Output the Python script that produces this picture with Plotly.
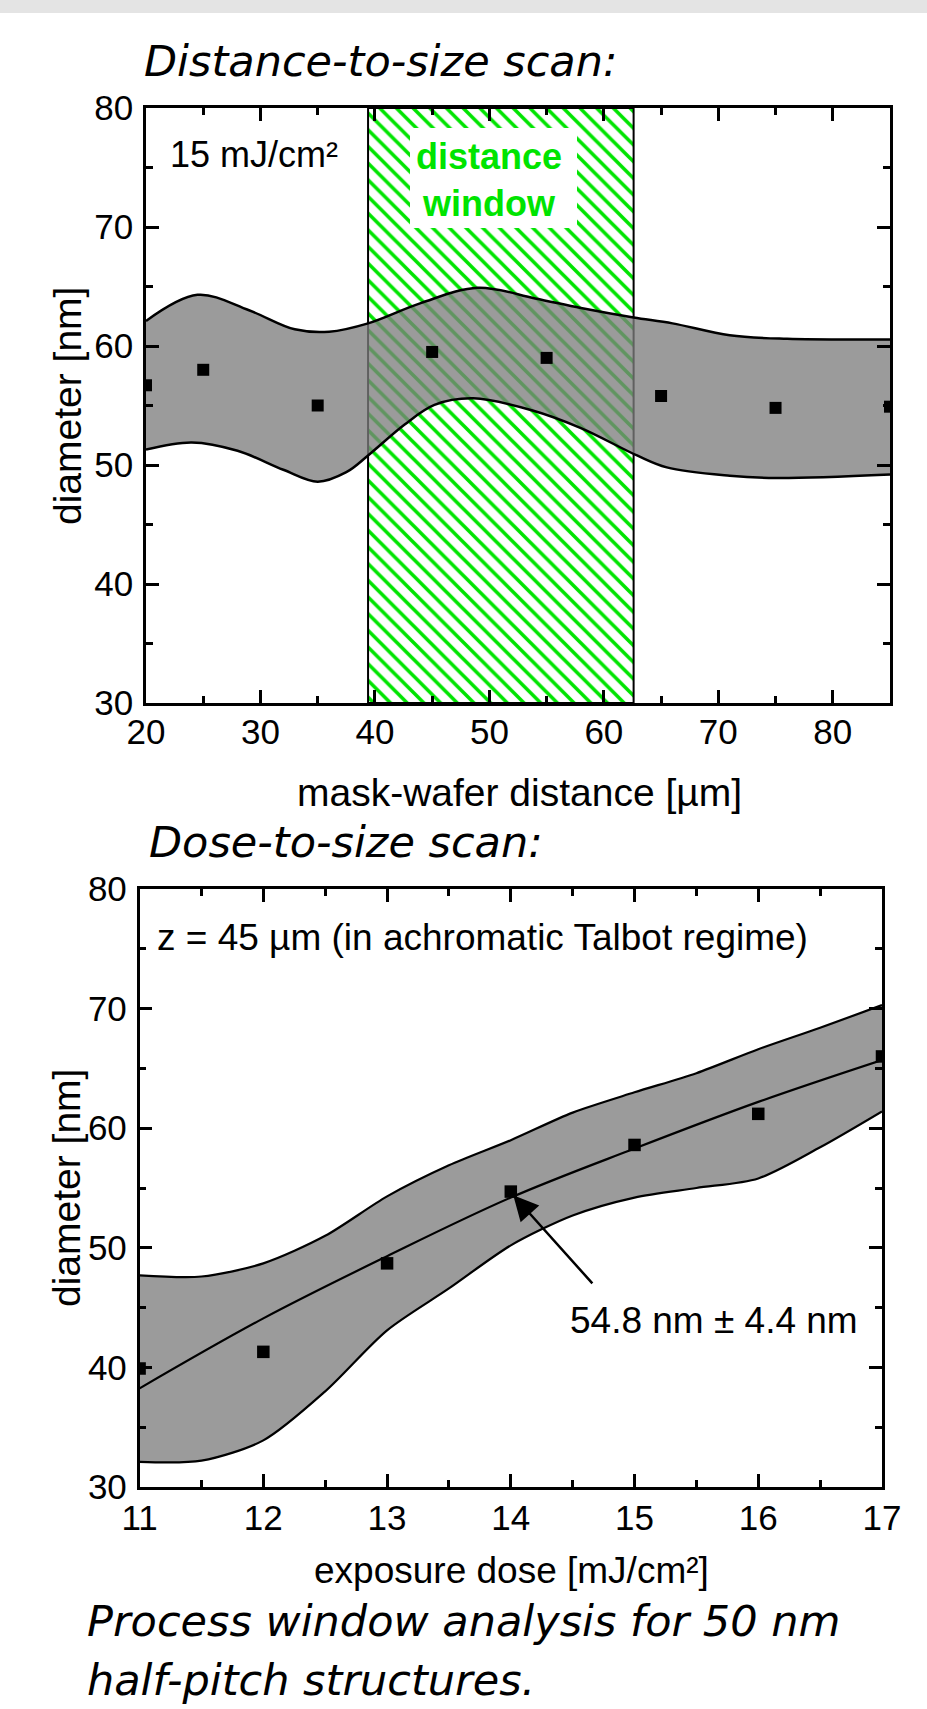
import plotly.graph_objects as go

W, H = 927, 1709

# ---------------- data: distance-to-size scan ----------------
dist_x = [20, 25, 35, 45, 55, 65, 75, 85]
dist_d = [56.7, 58.0, 55.0, 59.5, 59.0, 55.8, 54.8, 54.9]
dist_up_x = [20, 24.5, 29, 33, 36, 39.4, 44, 49, 54, 58, 62.6, 66, 71, 76, 85]
dist_up_y = [62.1, 64.3, 63.0, 61.4, 61.2, 61.9, 63.6, 64.9, 64.0, 63.2, 62.4, 61.9, 60.9, 60.6, 60.55]
dist_lo_x = [20, 24, 28, 32, 35, 37.5, 39.4, 42.6, 45.2, 48.6, 53.7, 58, 62.9, 65.5, 71, 75, 85]
dist_lo_y = [51.3, 51.9, 51.2, 49.6, 48.6, 49.4, 50.8, 53.4, 55.05, 55.6, 54.6, 53.1, 50.8, 49.8, 49.1, 48.9, 49.2]
window_x = [39.4, 62.6]

# ---------------- data: dose-to-size scan ----------------
dose_x = [11, 12, 13, 14, 15, 16, 17]
dose_d = [39.9, 41.3, 48.7, 54.7, 58.6, 61.2, 66.0]
dose_fit = [38.25, 44.1, 49.3, 54.2, 58.3, 62.2, 65.7]
dose_band_x = [11, 11.5, 12, 12.5, 13, 13.5, 14, 14.5, 15, 15.5, 16, 16.5, 17]
dose_up = [47.7, 47.6, 48.7, 51.0, 54.3, 56.9, 59.0, 61.3, 63.0, 64.6, 66.6, 68.4, 70.3]
dose_lo = [32.1, 32.2, 33.9, 38.0, 43.1, 46.6, 50.2, 52.7, 54.2, 55.0, 55.8, 58.4, 61.4]

x_ticks_top = [20, 30, 40, 50, 60, 70, 80]
x_ticks_bot = [11, 12, 13, 14, 15, 16, 17]
y_ticks = [30, 40, 50, 60, 70, 80]

ARIAL = "Liberation Sans, Arial, sans-serif"
CAP = "DejaVu Sans, sans-serif"
GREEN = "#00e400"
BAND = "rgba(125,125,125,0.77)"

def px(x):
    return x / W

def py(y):
    return 1 - y / H

fig = go.Figure()

# ---- top panel ----
fig.add_trace(go.Scatter(
    x=[window_x[0], window_x[1], window_x[1], window_x[0], window_x[0]],
    y=[30, 30, 80, 80, 30], mode="lines", fill="toself",
    line=dict(color="black", width=2),
    fillpattern=dict(shape="\\", fgcolor=GREEN, bgcolor="white", size=11.8, solidity=0.3),
    xaxis="x", yaxis="y", hoverinfo="skip", showlegend=False))
fig.add_trace(go.Scatter(
    x=dist_lo_x, y=dist_lo_y, mode="lines",
    line=dict(color="black", width=2.5, shape="spline", smoothing=1),
    xaxis="x", yaxis="y", showlegend=False))
fig.add_trace(go.Scatter(
    x=dist_up_x, y=dist_up_y, mode="lines", fill="tonexty",
    fillcolor=BAND,
    line=dict(color="black", width=2.5, shape="spline", smoothing=1),
    xaxis="x", yaxis="y", showlegend=False))
fig.add_trace(go.Scatter(
    x=dist_x, y=dist_d, mode="markers",
    marker=dict(symbol="square", size=12, color="black"),
    xaxis="x", yaxis="y", showlegend=False))

# ---- bottom panel ----
fig.add_trace(go.Scatter(
    x=dose_band_x, y=dose_lo, mode="lines",
    line=dict(color="black", width=2.2, shape="spline", smoothing=0.8),
    xaxis="x2", yaxis="y2", showlegend=False))
fig.add_trace(go.Scatter(
    x=dose_band_x, y=dose_up, mode="lines", fill="tonexty", fillcolor=BAND,
    line=dict(color="black", width=2.2, shape="spline", smoothing=0.8),
    xaxis="x2", yaxis="y2", showlegend=False))
fig.add_trace(go.Scatter(
    x=dose_x, y=dose_fit, mode="lines",
    line=dict(color="black", width=2.2, shape="spline"),
    xaxis="x2", yaxis="y2", showlegend=False))
fig.add_trace(go.Scatter(
    x=dose_x, y=dose_d, mode="markers",
    marker=dict(symbol="square", size=12.5, color="black"),
    xaxis="x2", yaxis="y2", showlegend=False))

def axis(domain, rng, mdtick, mtick0, anchor, tickvals, standoff):
    return dict(domain=domain, range=rng, anchor=anchor, showline=True, linewidth=2.5,
                linecolor="black", mirror="ticks", ticks="inside", ticklen=13, tickwidth=2.5,
                tickcolor="black", showgrid=False, zeroline=False, tickvals=tickvals,
                automargin=False, ticklabelstandoff=standoff,
                tickfont=dict(family=ARIAL, size=35, color="black"),
                minor=dict(ticks="inside", ticklen=7, tickwidth=2.5, tickcolor="black",
                           dtick=mdtick, tick0=mtick0, showgrid=False))

top_x_dom = [px(146), px(890)]
top_y_dom = [py(703), py(108)]
bot_x_dom = [px(139.6), px(882)]
bot_y_dom = [py(1487), py(889)]

fig.update_layout(
    template="none",
    width=W, height=H, autosize=False,
    margin=dict(l=0, r=0, t=0, b=0, pad=0),
    paper_bgcolor="white", plot_bgcolor="white",
    showlegend=False,
    xaxis=axis(top_x_dom, [20, 85], 5, 20, "y", x_ticks_top, -4),
    yaxis=axis(top_y_dom, [30, 80], 5, 30, "x", y_ticks, 3),
    xaxis2=axis(bot_x_dom, [11, 17], 0.5, 11, "y2", x_ticks_bot, -2),
    yaxis2=axis(bot_y_dom, [30, 80], 5, 30, "x2", y_ticks, 3),
)

shapes = [
    dict(type="rect", xref="paper", yref="paper", x0=0, x1=1, y0=py(13), y1=1,
         fillcolor="#e4e4e4", line=dict(width=0), layer="below"),
    dict(type="rect", xref="paper", yref="paper", x0=px(410), x1=px(577), y0=py(228), y1=py(128),
         fillcolor="white", line=dict(width=0), layer="above"),
]
fig.update_layout(shapes=shapes)

ann = []
def text(x, y, s, size, family=ARIAL, color="black", xanchor="left", angle=0):
    ann.append(dict(x=px(x), y=py(y), xref="paper", yref="paper", text=s, showarrow=False,
                    xanchor=xanchor, yanchor="middle", textangle=angle, borderpad=0,
                    font=dict(family=family, size=size, color=color)))

text(143, 60.5, "<i>Distance-to-size scan:</i>", 43, CAP)
text(148, 842.5, "<i>Dose-to-size scan:</i>", 43, CAP)
text(86, 1620.5, "<i>Process window analysis for 50 nm</i>", 43, CAP)
text(86, 1680, "<i>half-pitch structures.</i>", 43, CAP)

text(169, 155, "15 mJ/cm²", 36)
text(489, 180, "<b>distance</b><br><b>window</b>", 36, color=GREEN, xanchor="center")
text(156, 938, "z = 45 µm (in achromatic Talbot regime)", 37)
text(714, 1320, "54.8 nm ± 4.4 nm", 37, xanchor="center")

text(519, 792, "mask-wafer distance [µm]", 39, xanchor="center")
text(511, 1570, "exposure dose [mJ/cm²]", 37, xanchor="center")
text(68, 406, "diameter [nm]", 39, xanchor="center", angle=-90)
text(66, 1188, "diameter [nm]", 39, xanchor="center", angle=-90)

ann.append(dict(x=14.02, y=54.4, xref="x2", yref="y2", ax=14.67, ay=46.9,
                axref="x2", ayref="y2", text="", showarrow=True, arrowhead=2,
                arrowsize=2, arrowwidth=2.5, arrowcolor="black", standoff=0))
fig.update_layout(annotations=ann)

fig.write_html("out.html", config={"displayModeBar": False})
